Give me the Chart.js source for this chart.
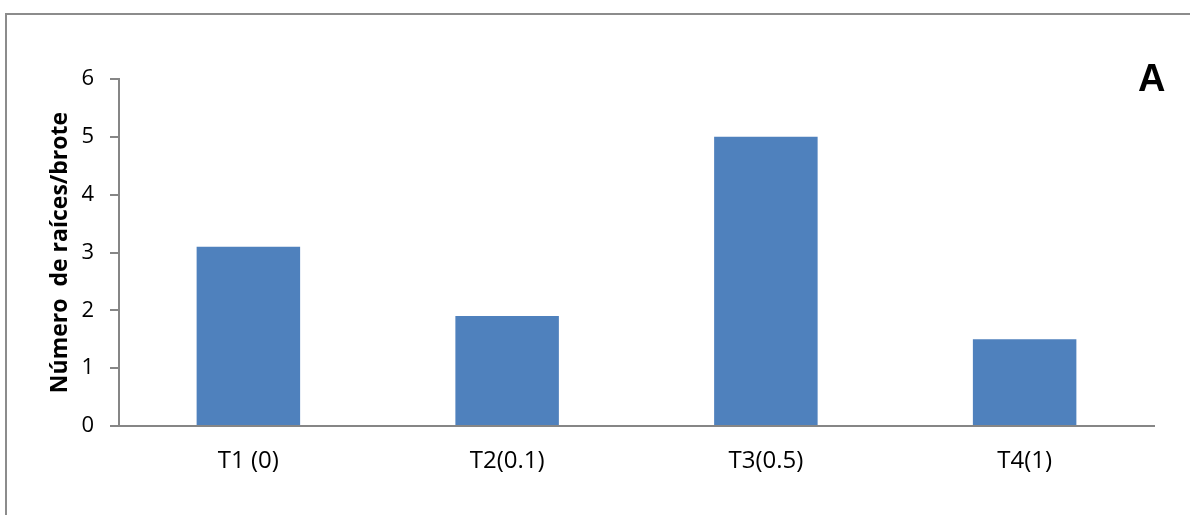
<!DOCTYPE html>
<html>
<head>
<meta charset="utf-8">
<script src="https://cdn.jsdelivr.net/npm/chart.js@4"></script>
<style>
  html, body { margin: 0; padding: 0; background: #fff; }
  #wrap { position: relative; width: 1190px; height: 515px; overflow: hidden; }
  canvas { display: block; }
</style>
</head>
<body>
<div id="wrap"><canvas id="chart" width="1190" height="515"></canvas></div>
<script>
// Treatments and mean number of roots per shoot
const categories = ['T1 (0)', 'T2(0.1)', 'T3(0.5)', 'T4(1)'];
const rootsPerShoot = [3.1, 1.9, 5.0, 1.5];
const yTicks = [0, 1, 2, 3, 4, 5, 6];
const yTitle = 'Número  de raíces/brote';
const panelLabel = 'A';

const FONT = '"Open Sans", "Noto Sans", sans-serif';
const AXIS_GRAY = '#868686';

// Frame around the panel and the panel letter
const framePlugin = {
  id: 'frame',
  beforeDraw(chart) {
    const ctx = chart.ctx;
    ctx.save();
    ctx.fillStyle = '#fff';
    ctx.fillRect(0, 0, chart.width, chart.height);
    ctx.strokeStyle = '#8c8c8c';
    ctx.lineWidth = 2;
    ctx.strokeRect(6, 14, chart.width + 20, chart.height + 20);
    ctx.restore();
  },
  afterDraw(chart) {
    const ctx = chart.ctx;
    ctx.save();
    ctx.fillStyle = '#000';
    ctx.font = 'bold 38px "Liberation Sans", Arial, sans-serif';
    ctx.textAlign = 'left';
    ctx.textBaseline = 'alphabetic';
    ctx.fillText(panelLabel, 1138, 91);
    ctx.restore();
  }
};

function draw() {
  new Chart(document.getElementById('chart'), {
    type: 'bar',
    data: {
      labels: categories,
      datasets: [{
        data: rootsPerShoot,
        backgroundColor: '#4F81BD',
        borderWidth: 0,
        categoryPercentage: 0.8,
        barPercentage: 0.5
      }]
    },
    options: {
      responsive: false,
      animation: false,
      devicePixelRatio: 1,
      layout: { padding: { left: 0, top: 79, right: 36, bottom: 0 } },
      plugins: {
        legend: { display: false },
        tooltip: { enabled: false }
      },
      scales: {
        x: {
          grid: { display: false, drawTicks: false },
          border: { display: true, color: AXIS_GRAY, width: 2 },
          ticks: {
            color: '#000',
            font: { family: FONT, size: 24 },
            padding: 21,
            maxRotation: 0
          },
          afterFit(scale) { scale.height = 89; }
        },
        y: {
          min: 0,
          max: 6,
          afterBuildTicks(scale) { scale.ticks = yTicks.map(v => ({ value: v })); },
          grid: {
            display: true,
            drawOnChartArea: false,
            drawTicks: true,
            tickLength: 9,
            color: AXIS_GRAY,
            lineWidth: 2
          },
          border: { display: true, color: AXIS_GRAY, width: 2 },
          ticks: {
            color: '#000',
            font: { family: FONT, size: 22 },
            padding: 16
          },
          title: {
            display: true,
            text: yTitle,
            color: '#000',
            font: { family: FONT, size: 23, weight: 'bold' },
            padding: { top: 47, bottom: 0 }
          },
          afterFit(scale) { scale.width = 119; }
        }
      }
    },
    plugins: [framePlugin]
  });
}

// Make sure the installed fonts are ready before drawing text on the canvas
const fontLoads = [
  '18px "Open Sans"', 'bold 18px "Open Sans"', 'bold 38px "Liberation Sans"'
].map(f => document.fonts.load(f));
Promise.all(fontLoads).then(draw, draw);
</script>
</body>
</html>
